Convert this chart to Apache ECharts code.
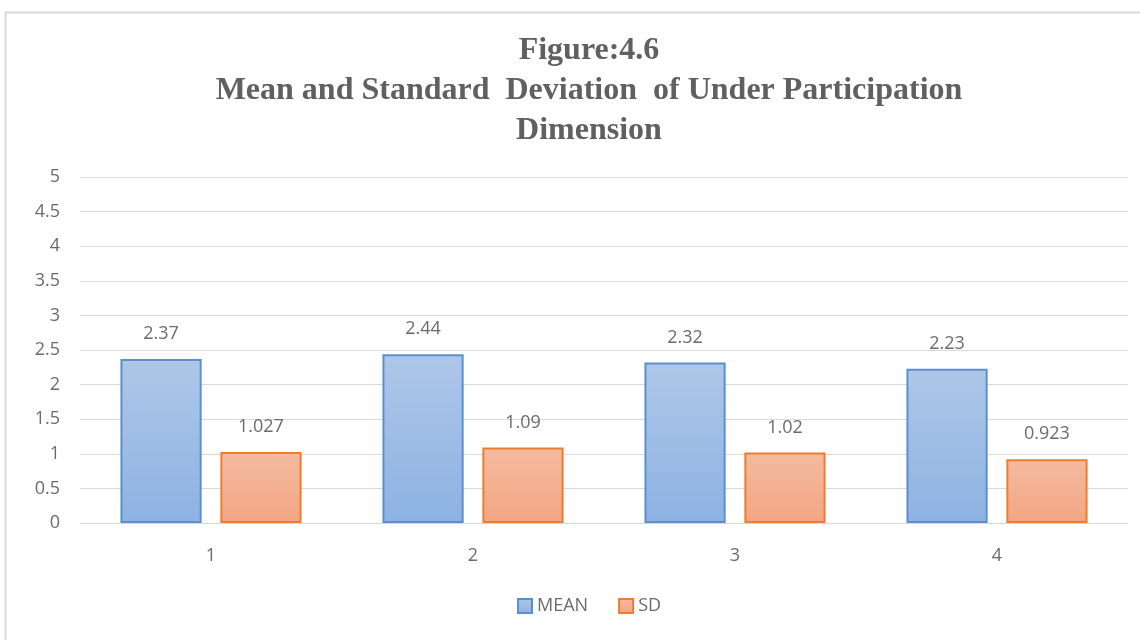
<!DOCTYPE html>
<html><head><meta charset="utf-8">
<script src="https://cdn.jsdelivr.net/npm/echarts@6/dist/echarts.min.js"></script>
<style>html,body{margin:0;padding:0;background:#fff}#c{width:1140px;height:640px}</style>
</head><body><div id="c"></div>
<script>
const categories = ['1', '2', '3', '4'];
const meanValues = [2.37, 2.44, 2.32, 2.23];
const sdValues = [1.027, 1.09, 1.02, 0.923];
const meanLabels = ['2.37', '2.44', '2.32', '2.23'];
const sdLabels = ['1.027', '1.09', '1.02', '0.923'];

const chart = echarts.init(document.getElementById('c'));
const labelFont = { fontFamily: 'Open Sans, Lato, sans-serif', fontSize: 18, color: '#6b6b6b' };
chart.setOption({
  backgroundColor: '#fff',
  animation: false,
  graphic: [{ type: 'rect', shape: { x: 5.5, y: 12.5, width: 1150, height: 650 }, style: { fill: 'none', stroke: '#d9d9d9', lineWidth: 2 }, silent: true, z: -1 }],
  title: {
    text: 'Figure:4.6\nMean and Standard  Deviation  of Under Participation\nDimension',
    left: 584, top: 26, textAlign: 'center',
    textStyle: { fontFamily: 'Liberation Serif, Times New Roman, serif', fontWeight: 'bold', fontSize: 32, lineHeight: 40, color: '#606060' }
  },
  legend: {
    data: ['MEAN', 'SD'], bottom: 20, left: 512,
    icon: 'rect', itemWidth: 14, itemHeight: 14, itemGap: 30,
    textStyle: { fontFamily: 'Open Sans, Lato, sans-serif', fontSize: 18, color: '#6b6b6b' }
  },
  grid: { left: 80, right: 12, top: 177, bottom: 117, containLabel: false },
  xAxis: {
    type: 'category', data: categories,
    axisLine: { lineStyle: { color: '#d9d9d9' } }, axisTick: { show: false },
    axisLabel: Object.assign({ margin: 24 }, labelFont)
  },
  yAxis: {
    type: 'value', min: 0, max: 5, interval: 0.5,
    axisLine: { show: false }, axisTick: { show: false },
    axisLabel: Object.assign({ margin: 20 }, labelFont),
    splitLine: { lineStyle: { color: '#d9d9d9' } }
  },
  series: [
    {
      name: 'MEAN', type: 'bar', data: meanValues, barWidth: '31%', barGap: '23%',
      itemStyle: { color: new echarts.graphic.LinearGradient(0, 0, 0, 1, [{ offset: 0, color: '#aec7e8' }, { offset: 1, color: '#8db2e2' }]), borderColor: '#5b8fd0', borderWidth: 2 },
      label: Object.assign({ show: true, position: 'top', distance: 16, formatter: p => meanLabels[p.dataIndex] }, labelFont)
    },
    {
      name: 'SD', type: 'bar', data: sdValues, barWidth: '31%',
      itemStyle: { color: new echarts.graphic.LinearGradient(0, 0, 0, 1, [{ offset: 0, color: '#f5baa0' }, { offset: 1, color: '#f2a682' }]), borderColor: '#ed7d31', borderWidth: 2 },
      label: Object.assign({ show: true, position: 'top', distance: 16, formatter: p => sdLabels[p.dataIndex] }, labelFont)
    }
  ]
});
</script></body></html>
